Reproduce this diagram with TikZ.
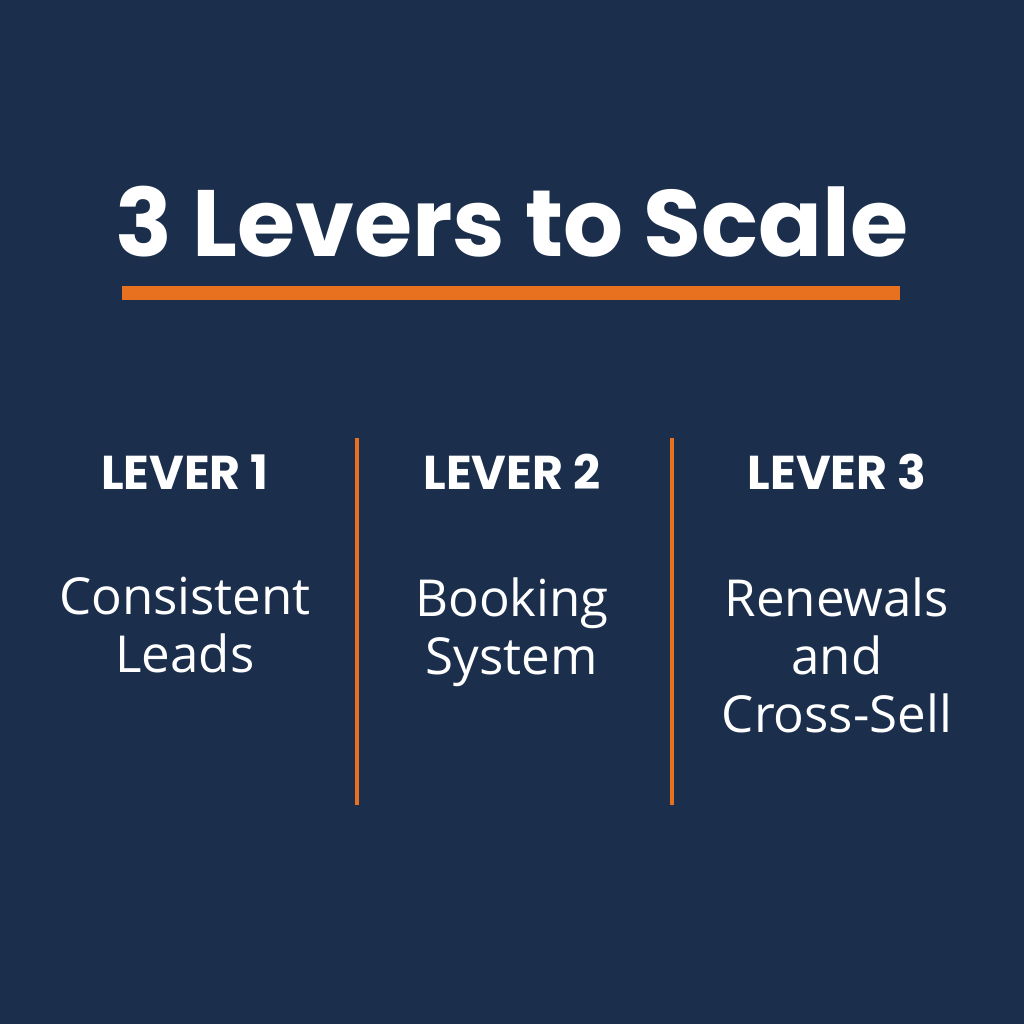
\documentclass[tikz,border=0pt]{standalone}
\usepackage{fontspec}
\setmainfont{Open Sans}
\newfontfamily\headfont{Poppins}
\usepackage{tikz}
\definecolor{navy}{HTML}{1B2E4C}
\definecolor{leverorange}{HTML}{E8711F}
\tikzset{
  lvhead/.style={text=white,font=\headfont\bfseries\fontsize{13.5}{15}\selectfont},
  lvbody/.style={text=white,align=center,font=\fontsize{14.5}{16.5}\selectfont},
  divider/.style={leverorange,line width=1.2pt}
}
\begin{document}
\begin{tikzpicture}[x=0.01cm,y=-0.01cm]
    \fill[navy] (0,0) rectangle (1024,1024);
    \node[text=white,font=\headfont\bfseries\fontsize{26.8}{30}\selectfont] (title) at (512,222) {3 Levers to Scale};
    \fill[leverorange] (122,286) rectangle (900,300);
    \draw[divider] (357,438) -- (357,805);
    \draw[divider] (672,438) -- (672,805);
    \node[lvhead] (h1) at (185,472) {LEVER 1};
    \node[lvhead] (h2) at (512,472) {LEVER 2};
    \node[lvhead] (h3) at (837,472) {LEVER 3};
    \node[lvbody,anchor=north] (b1) at (185,565) {Consistent\\Leads};
    \node[lvbody,anchor=north] (b2) at (512,565) {Booking\\System};
    \node[lvbody,anchor=north] (b3) at (837,565) {Renewals\\and\\Cross-Sell};
\end{tikzpicture}
\end{document}
